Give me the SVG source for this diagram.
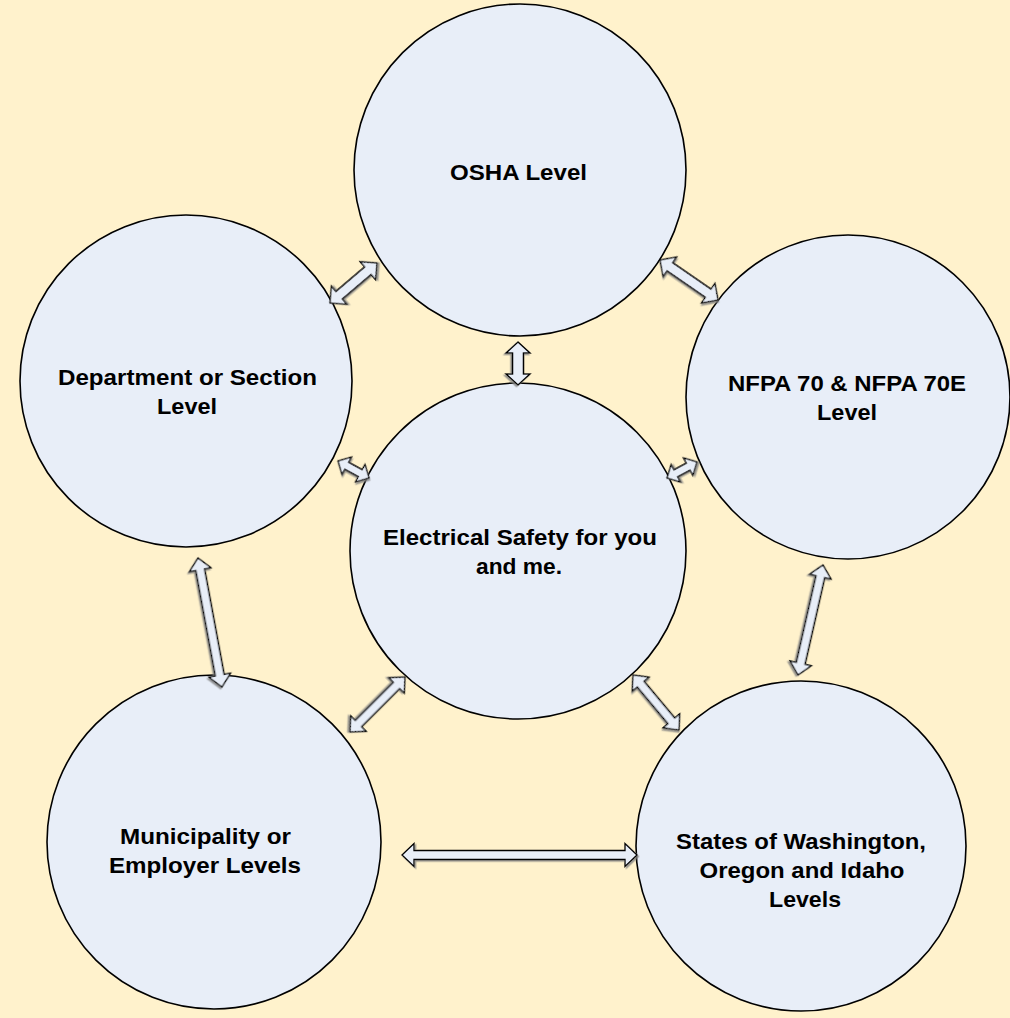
<svg xmlns="http://www.w3.org/2000/svg" width="1010" height="1018" viewBox="0 0 1010 1018">
<defs>
<style>
.node{fill:#E8EEF8;stroke:#000;stroke-width:1.6}
.lbl{font-family:"Liberation Sans",Arial,sans-serif;font-weight:bold;font-size:22px;fill:#000;text-anchor:middle}
.arr{fill:#E8EEF8;stroke:#000;stroke-width:1.3;stroke-linejoin:miter;filter:url(#sh)}
</style>
<filter id="sh" x="-20%" y="-50%" width="140%" height="200%">
<feDropShadow dx="1.5" dy="1.5" stdDeviation="0.6" flood-color="#808080" flood-opacity="0.8"/>
</filter>
</defs>
<rect width="1010" height="1018" fill="#FFF2CC"/>
<g id="osha"><circle class="node" cx="520" cy="170" r="166"/><text class="lbl" x="518.5" y="180" textLength="137" lengthAdjust="spacingAndGlyphs">OSHA Level</text></g>
<g id="department"><circle class="node" cx="186" cy="381" r="166"/><text class="lbl" x="187.5" y="385" textLength="259" lengthAdjust="spacingAndGlyphs">Department or Section</text><text class="lbl" x="187" y="414" textLength="60" lengthAdjust="spacingAndGlyphs">Level</text></g>
<g id="nfpa"><circle class="node" cx="848" cy="397" r="162"/><text class="lbl" x="847" y="391" textLength="238" lengthAdjust="spacingAndGlyphs">NFPA 70 &amp; NFPA 70E</text><text class="lbl" x="847" y="420" textLength="60" lengthAdjust="spacingAndGlyphs">Level</text></g>
<g id="center"><circle class="node" cx="518" cy="551" r="168"/><text class="lbl" x="520" y="545" textLength="274" lengthAdjust="spacingAndGlyphs">Electrical Safety for you</text><text class="lbl" x="519" y="574" textLength="86" lengthAdjust="spacingAndGlyphs">and me.</text></g>
<g id="municipality"><circle class="node" cx="214" cy="842" r="167"/><text class="lbl" x="205.5" y="844" textLength="171" lengthAdjust="spacingAndGlyphs">Municipality or</text><text class="lbl" x="205" y="873" textLength="192" lengthAdjust="spacingAndGlyphs">Employer Levels</text></g>
<g id="states"><circle class="node" cx="801" cy="846" r="165"/><text class="lbl" x="801" y="849" textLength="250" lengthAdjust="spacingAndGlyphs">States of Washington,</text><text class="lbl" x="802" y="878" textLength="205" lengthAdjust="spacingAndGlyphs">Oregon and Idaho</text><text class="lbl" x="805" y="907" textLength="72" lengthAdjust="spacingAndGlyphs">Levels</text></g>
<g id="connectors">
<path class="arr" transform="translate(330,303) rotate(-40.4)" d="M0,0 L12,-12 L12,-5 L49.7,-5 L49.7,-12 L61.7,0 L49.7,12 L49.7,5 L12,5 L12,12 Z"/>
<path class="arr" transform="translate(518,342) rotate(90)" d="M0,0 L11,-12 L11,-5.5 L32,-5.5 L32,-12 L43,0 L32,12 L32,5.5 L11,5.5 L11,12 Z"/>
<path class="arr" transform="translate(660,260) rotate(34.6)" d="M0,0 L12,-12 L12,-5 L58.5,-5 L58.5,-12 L70.5,0 L58.5,12 L58.5,5 L12,5 L12,12 Z"/>
<path class="arr" transform="translate(338,461) rotate(28.7)" d="M0,0 L10,-10 L10,-4 L25.4,-4 L25.4,-10 L35.4,0 L25.4,10 L25.4,4 L10,4 L10,10 Z"/>
<path class="arr" transform="translate(667,478) rotate(-28.1)" d="M0,0 L10,-10 L10,-4 L24,-4 L24,-10 L34,0 L24,10 L24,4 L10,4 L10,10 Z"/>
<path class="arr" transform="translate(402,855) rotate(0)" d="M0,0 L12,-11.5 L12,-4.5 L223,-4.5 L223,-11.5 L235,0 L223,11.5 L223,4.5 L12,4.5 L12,11.5 Z"/>
<path class="arr" transform="translate(198,558) rotate(79.5)" d="M0,0 L12,-11 L12,-4.5 L119.2,-4.5 L119.2,-11 L131.2,0 L119.2,11 L119.2,4.5 L12,4.5 L12,11 Z"/>
<path class="arr" transform="translate(823,565) rotate(102.8)" d="M0,0 L12,-11 L12,-4.5 L100.8,-4.5 L100.8,-11 L112.8,0 L100.8,11 L100.8,4.5 L12,4.5 L12,11 Z"/>
<path class="arr" transform="translate(405,677) rotate(135)" d="M0,0 L12,-11 L12,-4.5 L65.8,-4.5 L65.8,-11 L77.8,0 L65.8,11 L65.8,4.5 L12,4.5 L12,11 Z"/>
<path class="arr" transform="translate(633,675) rotate(50.1)" d="M0,0 L12,-11 L12,-4.5 L59.7,-4.5 L59.7,-11 L71.7,0 L59.7,11 L59.7,4.5 L12,4.5 L12,11 Z"/>
</g>
</svg>
